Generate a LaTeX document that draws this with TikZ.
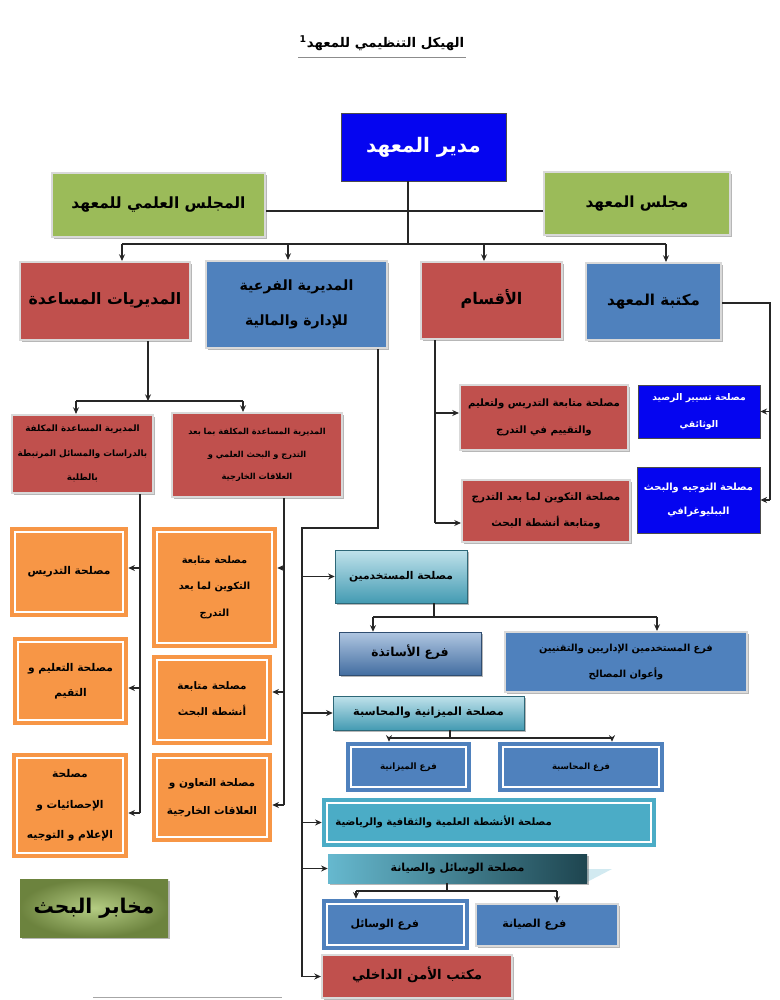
\documentclass[tikz,border=0pt]{standalone}
\usepackage{fontspec}
\newfontfamily\arabicfont[Script=Arabic]{DejaVu Sans}
\TeXXeTstate=1
\usetikzlibrary{arrows.meta,shadows}
\definecolor{cRed}{RGB}{192,80,77}
\definecolor{cBlue}{RGB}{79,129,189}
\definecolor{cGreen}{RGB}{155,187,89}
\definecolor{cOrange}{RGB}{247,150,70}
\definecolor{cCyan}{RGB}{75,172,198}
\definecolor{cDir}{RGB}{5,5,240}
\newcommand\AR[1]{\beginR #1\endR}
\newcommand\TL[1]{\begin{tabular}[t]{@{}c@{}}#1\end{tabular}}
\newcommand\fs[2]{\arabicfont\bfseries\fontsize{#1}{#2}\selectfont}
\begin{document}
\begin{tikzpicture}[x=0.75pt,y=-0.75pt,
  base/.style={inner sep=0pt, text=black},
  B/.style n args={4}{at={({(#1+#3)/2},{(#2+#4)/2})}, minimum width={(#3-#1)*0.75pt}, minimum height={(#4-#2)*0.75pt}},
  F/.style n args={3}{font=\fs{#1}{#2}, text height=#1*0.62pt, text depth=#1*0.12pt+#3*#2pt-#2pt},
  sh/.style={drop shadow={shadow xshift=1.3pt, shadow yshift=-1.3pt, opacity=0.4, fill=black!70}},
  wb/.style={draw=white!85!black, line width=1.6pt},
  framed/.style={path picture={\draw[white, line width=1.3pt]
      ([xshift=3.6pt,yshift=3.6pt]path picture bounding box.south west) rectangle
      ([xshift=-3.6pt,yshift=-3.6pt]path picture bounding box.north east);}},
  redbox/.style={base, fill=cRed, wb, sh},
  bluebox/.style={base, fill=cBlue, wb, sh},
  greenbox/.style={base, fill=cGreen, wb, sh},
  dirbox/.style={base, fill=cDir, draw=black!70, line width=0.6pt, text=white},
  orangebox/.style={base, fill=cOrange, framed},
  bluefr/.style={base, fill=cBlue, framed},
  cyanfr/.style={base, fill=cCyan, framed},
  cyangrad/.style={base, top color=cCyan!35!white, bottom color=cCyan!90!black, draw=cCyan!60!black, line width=0.4pt, sh},
  bluegrad/.style={base, top color=cBlue!45!white, bottom color=cBlue!85!black, draw=cBlue!60!black, line width=0.4pt, sh},
  conn/.style={draw=black!85, line width=0.8pt},
  arr/.style={conn, -{Stealth[length=5pt,width=4.5pt]}}]
\useasboundingbox (0,0) rectangle (780,1000);

% title
\node[inner sep=1pt, F={10}{12}{1}] (title) at (382,44) {\textsuperscript{1}\AR{الهيكل التنظيمي للمعهد}};
\coordinate (tl) at (0,57);
\draw[black!45, line width=0.6pt] (title.west |- tl) -- (title.east |- tl);

% top level
\node[dirbox, B={341}{113}{506}{181}, F={15}{18}{1}] (dir) {\AR{مدير المعهد}};
\node[greenbox, B={52}{173}{265}{237}, F={11.6}{14}{1}] (sci) {\AR{المجلس العلمي للمعهد}};
\node[greenbox, B={544}{172}{730}{235}, F={11.5}{14}{1}] (cons) {\AR{مجلس المعهد}};

\node[redbox, B={20}{262}{190}{340}, F={11.8}{14}{1}] (aux) {\AR{المديريات المساعدة}};
\node[bluebox, B={206}{261}{387}{348}, F={10.6}{26}{2}] (sub) {\TL{\AR{المديرية الفرعية}\\\AR{للإدارة والمالية}}};
\node[redbox, B={421}{262}{562}{339}, F={12}{14}{1}] (aqs) {\AR{الأقسام}};
\node[bluebox, B={586}{263}{721}{340}, F={11.3}{14}{1}] (lib) {\AR{مكتبة المعهد}};

% library services
\node[dirbox, B={638}{385}{760}{438}, F={6.9}{20}{2}] (tas) {\TL{\AR{مصلحة تسيير الرصيد}\\\AR{الوثائقي}}};
\node[dirbox, B={637}{467}{760}{533}, F={7.4}{18}{2}] (tawj) {\TL{\AR{مصلحة التوجيه والبحث}\\\AR{الببليوغرافي}}};

% departments services
\node[redbox, B={460}{385}{628}{450}, F={7.6}{20}{2}] (mt) {\TL{\AR{مصلحة متابعة التدريس ولتعليم}\\\AR{والتقييم في التدرج}}};
\node[redbox, B={462}{480}{630}{542}, F={7.8}{20}{2}] (mk) {\TL{\AR{مصلحة التكوين لما بعد التدرج}\\\AR{ومتابعة أنشطة البحث}}};

% assistant directorates
\node[redbox, B={12}{415}{153}{493}, F={6.6}{18.5}{3}] (d1) {\TL{\AR{المديرية المساعدة المكلفة}\\\AR{بالدراسات والمسائل المرتبطة}\\\AR{بالطلبة}}};
\node[redbox, B={172}{413}{342}{497}, F={6.2}{17}{3}] (d2) {\TL{\AR{المديرية المساعدة المكلفة  بما بعد}\\\AR{التدرج و البحث العلمي و}\\\AR{العلاقات الخارجية}}};

\node[orangebox, B={10}{527}{128}{617}, F={8}{19}{1}] (o1) {\AR{مصلحة التدريس}};
\node[orangebox, B={13}{637}{128}{725}, F={8}{19}{2}] (o2) {\TL{\AR{مصلحة التعليم و}\\\AR{التقيم}}};
\node[orangebox, B={12}{753}{128}{858}, F={8}{23}{3}] (o3) {\TL{\AR{مصلحة}\\\AR{الإحصائيات و}\\\AR{الإعلام و التوجيه}}};
\node[orangebox, B={152}{527}{277}{648}, F={7.4}{20}{3}] (o4) {\TL{\AR{مصلحة متابعة}\\\AR{التكوين لما بعد}\\\AR{التدرج}}};
\node[orangebox, B={152}{655}{272}{745}, F={7.8}{20}{2}] (o5) {\TL{\AR{مصلحة متابعة}\\\AR{أنشطة البحث}}};
\node[orangebox, B={152}{753}{272}{842}, F={7.9}{21}{2}] (o6) {\TL{\AR{مصلحة التعاون و}\\\AR{العلاقات الخارجية}}};

% admin & finance services
\node[cyangrad, B={335}{550}{467}{603}, F={8}{10}{1}] (mus) {\AR{مصلحة المستخدمين}};
\node[bluegrad, B={339}{632}{481}{675}, F={9.2}{11}{1}] (ust) {\AR{فرع الأساتذة}};
\node[bluebox, B={505}{632}{747}{692}, F={7.3}{19}{2}] (mst) {\TL{\AR{فرع المستخدمين الإداريين والتقنيين}\\\AR{وأعوان المصالح}}};
\node[cyangrad, B={333}{696}{524}{730}, F={8.5}{10}{1}] (miz) {\AR{مصلحة الميزانية والمحاسبة}};
\node[bluefr, B={346}{742}{471}{792}, F={6.6}{8}{1}] (fmz) {\AR{فرع الميزانية}};
\node[bluefr, B={498}{742}{664}{792}, F={6.4}{8}{1}] (fmh) {\AR{فرع المحاسبة}};
\node[cyanfr, B={322}{798}{656}{847}, F={7.6}{9}{1}] (ans) {\AR{مصلحة الأنشطة العلمية والثقافية والرياضية}\kern68pt};
\fill[cCyan!25] (587,869) -- (612,869) -- (587,882) -- cycle;
\node[base, left color=cCyan!85!white, right color=cCyan!40!black, sh, B={328}{854}{587}{883}, F={8.3}{10}{1}] (was) {\AR{مصلحة الوسائل والصيانة}};
\node[bluefr, B={322}{899}{469}{950}, F={8.2}{10}{1}] (fws) {\AR{فرع الوسائل}\kern16pt};
\node[bluebox, B={476}{904}{618}{946}, F={8.3}{10}{1}] (fsy) {\AR{فرع الصيانة}\kern19pt};
\node[redbox, B={322}{955}{512}{998}, F={10}{12}{1}] (amn) {\AR{مكتب الأمن الداخلي}};

% research labs
\node[base, inner color=cGreen!75!white, outer color=cGreen!70!black, sh, B={20}{879}{168}{937}, F={15.2}{18}{1}] (makh) {\AR{مخابر البحث}};

% ---- connectors ----
\coordinate (j0) at (408,211);
\coordinate (j1) at (408,244);
\draw[conn] (dir.south -| j0) -- (j1);
\draw[conn] (sci.east |- j0) -- (cons.west |- j0);
\coordinate (b1) at (122,244);
\coordinate (b2) at (288,244);
\coordinate (b3) at (484,244);
\coordinate (b4) at (666,244);
\draw[conn] (b1) -- (b4);
\foreach \c/\n in {b1/aux,b2/sub,b3/aqs,b4/lib} \draw[arr] (\c) -- (\c |- \n.north);

% library
\coordinate (l0) at (770,303);
\draw[conn] (lib.east |- l0) -- (l0) -- (l0 |- tawj.east);
\draw[arr] (l0 |- tas.east) -- (tas.east);
\draw[arr] (l0 |- tawj.east) -- (tawj.east);

% departments
\coordinate (q0) at (435,523);
\coordinate (q1) at (435,413);
\draw[conn] (aqs.south -| q0) -- (q0);
\draw[arr] (q1) -- (q1 -| mt.west);
\draw[arr] (q0) -- (q0 -| mk.west);

% assistant directorates
\coordinate (m0) at (148,401);
\coordinate (m1) at (76,401);
\coordinate (m2) at (243,401);
\draw[arr] (aux.south -| m0) -- (m0);
\draw[conn] (m1) -- (m2);
\draw[arr] (m1) -- (m1 |- d1.north);
\draw[arr] (m2) -- (m2 |- d2.north);

\coordinate (c1a) at (140,568);
\coordinate (c1b) at (140,688);
\coordinate (c1c) at (140,813);
\draw[conn] (d1.south -| c1c) -- (c1c);
\draw[arr] (c1a) -- (c1a -| o1.east);
\draw[arr] (c1b) -- (c1b -| o2.east);
\draw[arr] (c1c) -- (c1c -| o3.east);

\coordinate (c2a) at (284,568);
\coordinate (c2b) at (284,692);
\coordinate (c2c) at (284,805);
\draw[conn] (d2.south -| c2c) -- (c2c);
\draw[arr] (c2a) -- (c2a -| o4.east);
\draw[arr] (c2b) -- (c2b -| o5.east);
\draw[arr] (c2c) -- (c2c -| o6.east);

% admin & finance
\coordinate (s1) at (378,528);
\coordinate (s2) at (302,528);
\draw[arr] (sub.south -| s1) -- (s1) -- (s2) |- (amn.west);
\foreach \n in {mus,miz,ans,was} \draw[arr] (s2 |- \n.west) -- (\n.west);

\coordinate (u0) at (434,617);
\coordinate (u1) at (373,617);
\coordinate (u2) at (657,617);
\draw[conn] (mus.south -| u0) -- (u0);
\draw[conn] (u1) -- (u2);
\draw[arr] (u1) -- (u1 |- ust.north);
\draw[arr] (u2) -- (u2 |- mst.north);

\coordinate (z0) at (450,738);
\coordinate (z1) at (389,738);
\coordinate (z2) at (612,738);
\draw[conn] (miz.south -| z0) -- (z0);
\draw[conn] (z1) -- (z2);
\draw[arr] (z1) -- (z1 |- fmz.north);
\draw[arr] (z2) -- (z2 |- fmh.north);

\coordinate (w0) at (447,891);
\coordinate (w1) at (356,891);
\coordinate (w2) at (557,891);
\draw[conn] (was.south -| w0) -- (w0);
\draw[conn] (w1) -- (w2);
\draw[arr] (w1) -- (w1 |- fws.north);
\draw[arr] (w2) -- (w2 |- fsy.north);

% footnote rule
\draw[black!35, line width=0.6pt] (93,997) -- (282,997);
\end{tikzpicture}
\end{document}
